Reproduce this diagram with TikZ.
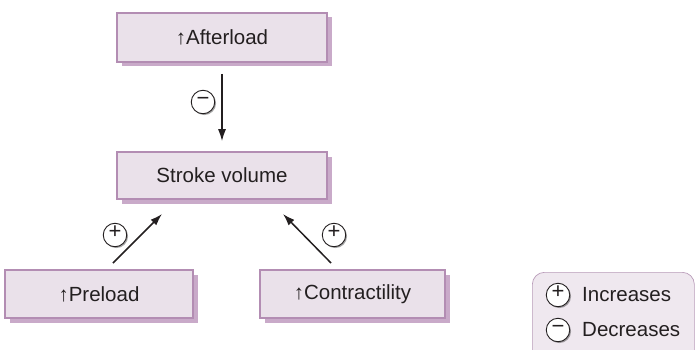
\documentclass[tikz,border=0pt]{standalone}
\usepackage{fontspec}
\setmainfont{Liberation Sans}
\usetikzlibrary{shadows,arrows.meta}
\definecolor{boxfill}{HTML}{EAE1EA}
\definecolor{boxline}{HTML}{B38DB3}
\definecolor{shadowc}{HTML}{C9AAC9}
\definecolor{legline}{HTML}{B99CB9}
\definecolor{legfill}{HTML}{EFE8EF}
\definecolor{txt}{HTML}{231F20}
\begin{document}
\begin{tikzpicture}[x=1pt,y=-1pt,
  box/.style={rectangle, draw=boxline, line width=1.6pt, fill=boxfill, text=txt,
    font=\fontsize{20.5}{24}\selectfont, inner sep=0pt,
    drop shadow={shadow xshift=4.5pt, shadow yshift=-4.5pt, fill=shadowc, opacity=1}},
  sign/.style={circle, draw=txt, line width=0.9pt, minimum size=23.5pt, inner sep=0pt,
    fill=white, text=txt, font=\fontsize{22}{22}\selectfont, text height=0.68em, text depth=0pt,
    drop shadow={shadow xshift=1.3pt, shadow yshift=-1.3pt, fill=black, opacity=0.35}},
  lsign/.style={sign, drop shadow={shadow xshift=0pt, shadow yshift=0pt, opacity=0}},
  legtext/.style={anchor=west, inner sep=0pt, text=txt, font=\fontsize{20.5}{24}\selectfont},
  arr/.style={-{Latex[length=12pt,width=8pt]}, line width=1.5pt, draw=txt},
  legendbox/.style={rectangle, rounded corners=12pt, draw=legline, line width=0.7pt, fill=legfill}
]
\useasboundingbox (0,0) rectangle (695,350);
\clip (0,0) rectangle (695,350);

\node[box, minimum width=210pt, minimum height=49pt] (A) at (222,37.5) {↑Afterload};
\node[box, minimum width=210pt, minimum height=47pt] (S) at (222,175.5) {Stroke volume};
\node[box, minimum width=188pt, minimum height=48pt] (P) at (99,294) {↑Preload};
\node[box, minimum width=185pt, minimum height=48pt] (C) at (352.5,294) {↑Contractility};

\draw[arr, shorten <=11pt, shorten >=10pt] (A) -- (S);
\coordinate (p1) at (113,263);
\coordinate (p2) at (162,214);
\coordinate (c1) at (331,263);
\coordinate (c2) at (283,214);
\draw[arr] (p1) -- (p2);
\draw[arr] (c1) -- (c2);

\node[sign] (m1) at (203,102) {−};
\node[sign] (s1) at (115,235) {+};
\node[sign] (s2) at (334,235) {+};

\node[legendbox, minimum width=162pt, minimum height=100pt, anchor=north west] (L) at (532,272) {};
\node[lsign] (ls1) at (558,295) {+};
\node[lsign] (ls2) at (558,330) {−};
\node[legtext] (lt1) at (582,295) {Increases};
\node[legtext] (lt2) at (582,330) {Decreases};
\end{tikzpicture}
\end{document}
